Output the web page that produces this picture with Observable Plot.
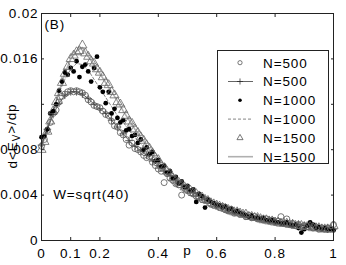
<!DOCTYPE html>
<html>
<head>
<meta charset="utf-8">
<script src="https://cdn.jsdelivr.net/npm/d3@7"></script>
<script src="https://cdn.jsdelivr.net/npm/@observablehq/plot@0.6"></script>
<style>
  html, body { margin: 0; padding: 0; background: #fff; }
  svg text { letter-spacing: 0.9px; }
</style>
</head>
<body>
<div id="chart"></div>
<script>
// ---- data ----
const pMarkers = [0,0.01,0.02,0.03,0.04,0.05,0.06,0.07,0.08,0.09,0.1,0.11,0.12,0.13,0.14,0.15,0.16,0.17,0.18,0.19,0.2,0.21,0.22,0.23,0.24,0.25,0.26,0.27,0.28,0.29,0.3,0.31,0.32,0.33,0.34,0.35,0.36,0.37,0.38,0.39,0.4,0.41,0.42,0.43,0.44,0.45,0.46,0.47,0.48,0.49,0.5,0.51,0.52,0.53,0.54,0.55,0.56,0.57,0.58,0.59,0.6,0.61,0.62,0.63,0.64,0.65,0.66,0.67,0.68,0.69,0.7,0.71,0.72,0.73,0.74,0.75,0.76,0.77,0.78,0.79,0.8,0.81,0.82,0.83,0.84,0.85,0.86,0.87,0.88,0.89,0.9,0.91,0.92,0.93,0.94,0.95,0.96,0.97,0.98,0.99,1];

const n500Circles = [0.0083,0.0089,0.0097,0.0104,0.0112,0.0115,0.0122,0.0127,0.0129,0.0131,0.0132,0.0131,0.0132,0.0131,0.0130,0.0128,0.0124,0.0122,0.0119,0.0118,0.0117,0.0114,0.0111,0.0110,0.0105,0.0101,0.0100,0.0095,0.0093,0.0089,0.0084,0.0086,0.0081,0.0080,0.0078,0.0075,0.0073,0.0074,0.0069,0.0066,0.0063,0.0061,0.0051,0.0059,0.0055,0.0053,0.0050,0.0049,0.0040,0.0046,0.0044,0.0042,0.0041,0.0039,0.0038,0.0036,0.0036,0.0035,0.0032,0.0031,0.0031,0.0029,0.0030,0.0027,0.0026,0.0027,0.0024,0.0025,0.0023,0.0023,0.0021,0.0022,0.0020,0.0021,0.0019,0.0019,0.0018,0.0019,0.0017,0.0018,0.0016,0.0017,0.0021,0.0015,0.0019,0.0014,0.0015,0.0013,0.0014,0.0012,0.0013,0.0012,0.0013,0.0011,0.0012,0.0010,0.0011,0.0010,0.0011,0.0010,0.0014];

const n1000Dots = [0.0091,0.0092,0.0098,0.0112,0.0114,0.0120,0.0132,0.0140,0.0148,0.0146,0.0152,0.0149,0.0158,0.0144,0.0153,0.0155,0.0149,0.0140,0.0152,0.0162,0.0135,0.0131,0.0121,0.0131,0.0112,0.0116,0.0108,0.0104,0.0106,0.0097,0.0098,0.0092,0.0093,0.0086,0.0089,0.0080,0.0082,0.0076,0.0078,0.0070,0.0071,0.0065,0.0066,0.0060,0.0061,0.0055,0.0056,0.0050,0.0052,0.0047,0.0048,0.0044,0.0045,0.0034,0.0041,0.0039,0.0029,0.0036,0.0034,0.0033,0.0031,0.0031,0.0029,0.0030,0.0027,0.0028,0.0025,0.0026,0.0024,0.0023,0.0022,0.0021,0.0022,0.0020,0.0020,0.0019,0.0020,0.0018,0.0017,0.0018,0.0016,0.0016,0.0015,0.0015,0.0016,0.0014,0.0013,0.0014,0.0011,0.0007,0.0010,0.0013,0.0016,0.0014,0.0011,0.0012,0.0010,0.0011,0.0009,0.0010,0.0009];

const n1500Triangles = [0.0080,0.0087,0.0096,0.0105,0.0114,0.0122,0.0130,0.0139,0.0147,0.0153,0.0160,0.0163,0.0166,0.0167,0.0172,0.0165,0.0162,0.0158,0.0156,0.0151,0.0148,0.0144,0.0139,0.0137,0.0131,0.0128,0.0122,0.0120,0.0115,0.0110,0.0105,0.0103,0.0098,0.0095,0.0091,0.0088,0.0084,0.0081,0.0077,0.0073,0.0071,0.0066,0.0064,0.0061,0.0059,0.0055,0.0053,0.0051,0.0049,0.0047,0.0045,0.0044,0.0042,0.0041,0.0039,0.0038,0.0036,0.0035,0.0033,0.0032,0.0031,0.0030,0.0029,0.0028,0.0027,0.0026,0.0025,0.0025,0.0024,0.0023,0.0023,0.0021,0.0021,0.0020,0.0020,0.0019,0.0018,0.0018,0.0017,0.0017,0.0016,0.0016,0.0015,0.0015,0.0015,0.0014,0.0014,0.0013,0.0013,0.0013,0.0012,0.0012,0.0012,0.0011,0.0011,0.0011,0.0010,0.0010,0.0010,0.0010,0.0013];

const pLines = [0,0.02,0.04,0.06,0.08,0.1,0.12,0.14,0.16,0.18,0.2,0.22,0.24,0.26,0.28,0.3,0.32,0.34,0.36,0.38,0.4,0.42,0.44,0.46,0.48,0.5,0.52,0.54,0.56,0.58,0.6,0.62,0.64,0.66,0.68,0.7,0.72,0.74,0.76,0.78,0.8,0.82,0.84,0.86,0.88,0.9,0.92,0.94,0.96,0.98,1];

const n500Line = [0.0084,0.0098,0.0111,0.0121,0.0128,0.0131,0.0131,0.0129,0.0125,0.0120,0.0116,0.0112,0.0106,0.0100,0.0094,0.0088,0.0083,0.0079,0.0075,0.0070,0.0066,0.0061,0.0057,0.0053,0.0049,0.0045,0.0042,0.0039,0.0036,0.0034,0.0031,0.0029,0.0027,0.0025,0.0024,0.0022,0.0021,0.0020,0.0019,0.0018,0.0017,0.0016,0.0015,0.0015,0.0014,0.0013,0.0013,0.0012,0.0011,0.0011,0.0010];

const n1000Line = [0.0086,0.0100,0.0115,0.0130,0.0142,0.0151,0.0156,0.0155,0.0150,0.0142,0.0134,0.0126,0.0118,0.0110,0.0104,0.0097,0.0091,0.0085,0.0080,0.0074,0.0069,0.0063,0.0058,0.0054,0.0050,0.0046,0.0043,0.0040,0.0037,0.0034,0.0032,0.0030,0.0028,0.0026,0.0024,0.0022,0.0021,0.0020,0.0019,0.0018,0.0017,0.0016,0.0015,0.0015,0.0014,0.0013,0.0012,0.0012,0.0011,0.0011,0.0010];

const n1500Line = [0.0082,0.0098,0.0115,0.0131,0.0147,0.0160,0.0167,0.0170,0.0162,0.0155,0.0147,0.0139,0.0131,0.0123,0.0114,0.0106,0.0098,0.0091,0.0084,0.0076,0.0070,0.0064,0.0058,0.0054,0.0050,0.0046,0.0043,0.0040,0.0037,0.0034,0.0032,0.0030,0.0028,0.0026,0.0024,0.0022,0.0021,0.0020,0.0019,0.0018,0.0017,0.0016,0.0015,0.0015,0.0014,0.0013,0.0012,0.0012,0.0011,0.0011,0.0010];

const xTicks = [0, 0.1, 0.2, 0.4, 0.6, 0.8, 1];
const xTickLabels = ["0", "0.1", "0.2", "0.4", "0.6", "0.8", "1"];
const yTicks = [0, 0.004, 0.008, 0.012, 0.016, 0.02];
const yTickLabels = ["0", "0.004", "0.008", "", "0.016", "0.02"];
const legendLabels = ["N=500", "N=500", "N=1000", "N=1000", "N=1500", "N=1500"];
const panelTag = "(B)";
const noteText = "W=sqrt(40)";
const xLabel = "p";
const yLabel = "d<E>/dp";

// ---- tables ----
const mk = (ps, vs) => ps.map((p, i) => ({p, v: vs[i]}));
const dCirc = mk(pMarkers, n500Circles);
const dDots = mk(pMarkers, n1000Dots);
const dTri = mk(pMarkers, n1500Triangles);
const l500 = mk(pLines, n500Line);
const l1000 = mk(pLines, n1000Line);
const l1500 = mk(pLines, n1500Line);

const FONT = "'Liberation Sans', Arial, Helvetica, sans-serif";

const svg = Plot.plot({
  width: 346, height: 265,
  marginLeft: 41, marginRight: 13, marginTop: 13, marginBottom: 25,
  style: {fontFamily: FONT, fontSize: "13.5px", color: "#000", background: "#fff"},
  x: {domain: [0, 1], label: null},
  y: {domain: [0, 0.02], label: null},
  marks: [
    Plot.line(l1500, {x: "p", y: "v", stroke: "#b0b0b0", strokeWidth: 1.6}),
    Plot.line(l1000, {x: "p", y: "v", stroke: "#777", strokeWidth: 0.9, strokeDasharray: "3,2"}),
    Plot.line(l500, {x: "p", y: "v", stroke: "#222", strokeWidth: 0.7}),
    Plot.dot(l500, {x: "p", y: "v", symbol: "plus", r: 2.6, stroke: "#222", strokeWidth: 0.7}),
    Plot.dot(dCirc, {x: "p", y: "v", symbol: "circle", r: 3, stroke: "#555", strokeWidth: 0.8, fill: "none"}),
    Plot.dot(dDots, {x: "p", y: "v", symbol: "circle", r: 2.4, fill: "#000", stroke: "none"}),
    Plot.dot(dTri, {x: "p", y: "v", symbol: "triangle", r: 3.4, stroke: "#666", strokeWidth: 0.8, fill: "none"}),
    Plot.frame({stroke: "#222", strokeWidth: 1}),
    Plot.axisX({anchor: "bottom", ticks: xTicks, tickFormat: d => xTickLabels[xTicks.indexOf(d)], tickSize: -3, tickPadding: 11, label: null, stroke: "#222"}),
    Plot.axisX({anchor: "top", ticks: xTicks, tickFormat: () => "", tickSize: -3, label: null, stroke: "#222"}),
    Plot.axisY({anchor: "left", ticks: yTicks, tickFormat: d => yTickLabels[yTicks.indexOf(d)], tickSize: -3, tickPadding: 6, label: null, stroke: "#222"}),
    Plot.axisY({anchor: "right", ticks: yTicks, tickFormat: () => "", tickSize: -3, label: null, stroke: "#222"}),
    Plot.text([xLabel], {frameAnchor: "bottom", lineAnchor: "top", dy: 5, text: d => d}),
    Plot.text([yLabel], {frameAnchor: "left", textAnchor: "middle", rotate: -90, dx: -29, dy: 9, text: d => d}),
    Plot.text([panelTag], {x: 0.01, y: 0.019, textAnchor: "start", text: d => d}),
    Plot.text([noteText], {x: 0.04, y: 0.004, textAnchor: "start", text: d => d})
  ]
});

// y label with subscript
d3.select(svg).selectAll("text").filter(function() { return this.textContent === yLabel; })
  .each(function() {
    const t = d3.select(this);
    t.text(null);
    t.append("tspan").text("d<E");
    t.append("tspan").attr("font-size", "10px").attr("dy", "0.35em").text("V");
    t.append("tspan").attr("dy", "-0.35em").text(">/dp");
  });

// legend box
const lg = d3.select(svg).append("g").attr("font-family", FONT).attr("font-size", "13.5px").attr("text-anchor", "start");
const bx = 217, by = 50, bw = 111, bh = 113, rowH = 18.8, row0 = 62.7;
lg.append("rect").attr("x", bx + 0.5).attr("y", by + 0.5).attr("width", bw).attr("height", bh)
  .attr("fill", "#fff").attr("stroke", "#222").attr("stroke-width", 1);
const sym = (type, size) => d3.symbol().type(type).size(size)();
legendLabels.forEach((lab, i) => {
  const cy = row0 + i * rowH;
  const g = lg.append("g");
  if (i === 0) g.append("path").attr("transform", `translate(240,${cy})`).attr("d", sym(d3.symbolCircle, 14)).attr("fill", "none").attr("stroke", "#555").attr("stroke-width", 0.8);
  if (i === 1) {
    g.append("line").attr("x1", 228).attr("x2", 253).attr("y1", cy).attr("y2", cy).attr("stroke", "#222").attr("stroke-width", 0.7);
    g.append("path").attr("transform", `translate(240,${cy})`).attr("d", sym(d3.symbolPlus, 14)).attr("fill", "none").attr("stroke", "#222").attr("stroke-width", 0.7);
  }
  if (i === 2) g.append("circle").attr("cx", 240).attr("cy", cy).attr("r", 1.8).attr("fill", "#000");
  if (i === 3) g.append("line").attr("x1", 228).attr("x2", 253).attr("y1", cy).attr("y2", cy).attr("stroke", "#777").attr("stroke-width", 0.9).attr("stroke-dasharray", "3,2");
  if (i === 4) g.append("path").attr("transform", `translate(240,${cy})`).attr("d", sym(d3.symbolTriangle, 16)).attr("fill", "none").attr("stroke", "#555").attr("stroke-width", 0.8);
  if (i === 5) g.append("line").attr("x1", 228).attr("x2", 253).attr("y1", cy).attr("y2", cy).attr("stroke", "#b0b0b0").attr("stroke-width", 1.6);
  g.append("text").attr("x", 263).attr("y", cy + 4.8).attr("text-anchor", "start").text(lab);
});

document.getElementById("chart").appendChild(svg);
</script>
</body>
</html>
